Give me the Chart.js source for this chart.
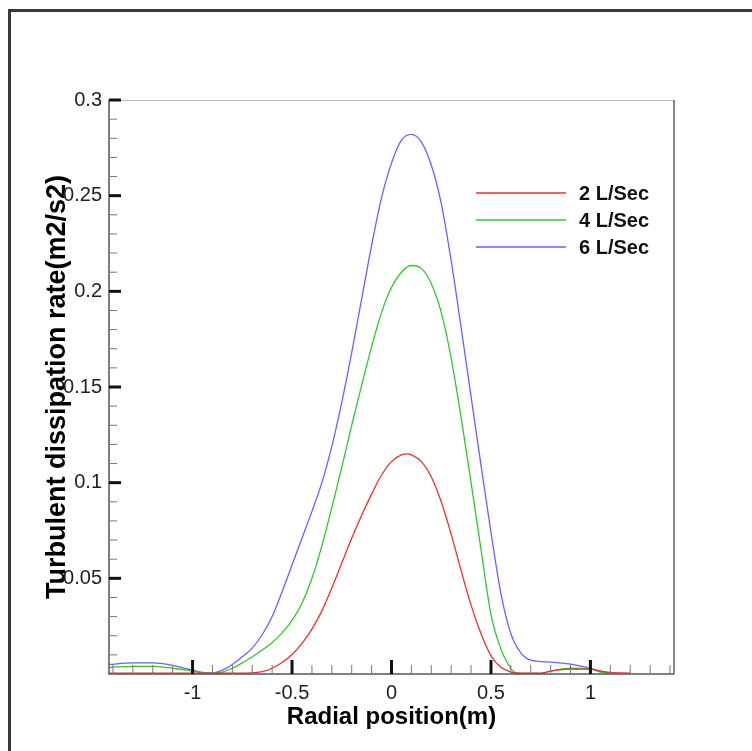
<!DOCTYPE html>
<html>
<head>
<meta charset="utf-8">
<script src="https://cdn.jsdelivr.net/npm/chart.js@4.4.1/dist/chart.umd.min.js"></script>
<style>
  html, body { margin: 0; padding: 0; background: #fff; }
  #wrap { position: relative; width: 752px; height: 751px; }
  #frame { position: absolute; left: 8px; top: 9px; right: 0; bottom: 0;
           border-left: 3px solid #3a3a3a; border-top: 3px solid #3a3a3a; pointer-events: none; }
</style>
</head>
<body>
<div id="wrap">
  <canvas id="chart" width="752" height="751"></canvas>
  <div id="frame"></div>
</div>
<script>
// 軸ラベル
const xTickLabels = [-1, -0.5, 0, 0.5, 1];
const yTickLabels = [0.05, 0.1, 0.15, 0.2, 0.25, 0.3];
const seriesNames = ['2 L/Sec', '4 L/Sec', '6 L/Sec'];

// 2 L/Sec
const xRed = [-1.42, -1.2, -1.0, -0.8, -0.7, -0.65, -0.6, -0.55, -0.5, -0.45, -0.4, -0.35, -0.3, -0.25, -0.2, -0.15, -0.1, -0.05, 0, 0.05, 0.08, 0.1, 0.15, 0.2, 0.25, 0.3, 0.35, 0.4, 0.45, 0.5, 0.55, 0.6, 0.65, 0.75, 0.8, 0.9, 1.0, 1.05, 1.1, 1.2];
const yRed = [0.0005, 0.0005, 0.0005, 0.0005, 0.0006, 0.0012, 0.003, 0.006, 0.0102, 0.016, 0.0235, 0.033, 0.045, 0.058, 0.071, 0.083, 0.094, 0.104, 0.111, 0.1145, 0.115, 0.1145, 0.111, 0.103, 0.09, 0.073, 0.054, 0.036, 0.021, 0.0095, 0.0035, 0.001, 0.0005, 0.0005, 0.0015, 0.0025, 0.0025, 0.0015, 0.0008, 0.0005];

// 4 L/Sec
const xGreen = [-1.42, -1.3, -1.2, -1.1, -1.0, -0.95, -0.9, -0.85, -0.8, -0.75, -0.7, -0.65, -0.6, -0.55, -0.5, -0.45, -0.4, -0.35, -0.3, -0.25, -0.2, -0.15, -0.1, -0.05, 0, 0.05, 0.1, 0.15, 0.2, 0.25, 0.3, 0.35, 0.4, 0.45, 0.5, 0.55, 0.6, 0.63, 0.75, 0.8, 0.9, 1.0, 1.05, 1.1];
const yGreen = [0.0035, 0.004, 0.004, 0.003, 0.0015, 0.0005, 0.0003, 0.001, 0.003, 0.0058, 0.009, 0.0125, 0.0165, 0.0215, 0.028, 0.037, 0.05, 0.067, 0.087, 0.108, 0.13, 0.151, 0.171, 0.189, 0.202, 0.21, 0.2135, 0.212, 0.204, 0.189, 0.165, 0.134, 0.1, 0.065, 0.031, 0.013, 0.003, 0.0005, 0.0003, 0.0015, 0.003, 0.0025, 0.001, 0.0003];

// 6 L/Sec
const xBlue = [-1.42, -1.3, -1.2, -1.1, -1.0, -0.95, -0.9, -0.85, -0.8, -0.75, -0.7, -0.65, -0.6, -0.55, -0.5, -0.45, -0.4, -0.35, -0.3, -0.25, -0.2, -0.15, -0.1, -0.05, 0, 0.05, 0.1, 0.15, 0.2, 0.25, 0.3, 0.35, 0.4, 0.45, 0.5, 0.55, 0.6, 0.65, 0.7, 0.8, 0.9, 1.0, 1.05, 1.1];
const yBlue = [0.005, 0.0058, 0.0058, 0.0045, 0.002, 0.0008, 0.0005, 0.002, 0.005, 0.009, 0.0135, 0.0205, 0.03, 0.043, 0.057, 0.071, 0.085, 0.1, 0.119, 0.142, 0.168, 0.196, 0.224, 0.249, 0.267, 0.279, 0.282, 0.278, 0.266, 0.246, 0.216, 0.181, 0.145, 0.109, 0.074, 0.042, 0.021, 0.011, 0.0072, 0.0062, 0.0052, 0.003, 0.0015, 0.0003];

const seriesColors = ['rgb(232,50,50)', 'rgb(50,200,50)', 'rgb(100,100,250)'];

const toPoints = (xs, ys) => xs.map((x, i) => ({ x: x, y: ys[i] }));
const FONT = '"Liberation Sans", Arial, sans-serif';

// 内向きの目盛りと枠線
const axisTicks = {
  id: 'axisTicks',
  afterDatasetsDraw(chart) {
    const { ctx, chartArea: a, scales: { x, y } } = chart;
    ctx.save();
    ctx.lineWidth = 1;
    ctx.strokeStyle = '#bbb';
    ctx.beginPath(); ctx.moveTo(a.left, a.top + 0.5); ctx.lineTo(a.right, a.top + 0.5); ctx.stroke();
    ctx.lineWidth = 2;
    ctx.strokeStyle = '#888';
    ctx.beginPath(); ctx.moveTo(a.right, a.top); ctx.lineTo(a.right, a.bottom); ctx.stroke();
    ctx.strokeStyle = '#555';
    ctx.lineWidth = 1.5;
    ctx.beginPath(); ctx.moveTo(a.left, a.top); ctx.lineTo(a.left, a.bottom); ctx.lineTo(a.right, a.bottom); ctx.stroke();

    for (let i = -14; i <= 14; i++) {
      const px = x.getPixelForValue(i / 10);
      const major = i % 5 === 0;
      ctx.strokeStyle = major ? '#111' : '#777';
      ctx.lineWidth = major ? 3 : 1;
      ctx.beginPath();
      ctx.moveTo(px, a.bottom);
      ctx.lineTo(px, a.bottom - (major ? 14 : 9));
      ctx.stroke();
    }
    for (let i = 1; i <= 30; i++) {
      const py = y.getPixelForValue(i / 100);
      const major = i % 5 === 0;
      ctx.strokeStyle = major ? '#111' : '#777';
      ctx.lineWidth = major ? 3 : 1;
      ctx.beginPath();
      ctx.moveTo(a.left, py);
      ctx.lineTo(a.left + (major ? 12 : 8), py);
      ctx.stroke();
    }
    ctx.restore();
  }
};

// 凡例
const legendBox = {
  id: 'legendBox',
  afterDraw(chart) {
    const ctx = chart.ctx;
    ctx.save();
    chart.data.datasets.forEach((ds, i) => {
      const yy = 193 + i * 27;
      ctx.strokeStyle = ds.borderColor;
      ctx.lineWidth = 1.3;
      ctx.beginPath(); ctx.moveTo(476, yy); ctx.lineTo(566, yy); ctx.stroke();
      ctx.fillStyle = '#111';
      ctx.font = 'bold 20px ' + FONT;
      ctx.textBaseline = 'middle';
      ctx.fillText(ds.label, 579, yy + 1);
    });
    ctx.restore();
  }
};

const canvas = document.getElementById('chart');
canvas.style.width = '752px';
canvas.style.height = '751px';

new Chart(canvas.getContext('2d'), {
  type: 'line',
  data: {
    datasets: [
      { label: seriesNames[0], data: toPoints(xRed, yRed) },
      { label: seriesNames[1], data: toPoints(xGreen, yGreen) },
      { label: seriesNames[2], data: toPoints(xBlue, yBlue) }
    ].map((d, i) => Object.assign(d, {
      borderColor: seriesColors[i],
      borderWidth: 1.3,
      pointRadius: 0,
      fill: false,
      cubicInterpolationMode: 'monotone'
    }))
  },
  options: {
    responsive: false,
    animation: false,
    layout: { padding: { top: 100, right: 78, left: 0, bottom: 0 } },
    plugins: {
      legend: { display: false },
      tooltip: { enabled: false }
    },
    scales: {
      x: {
        type: 'linear',
        min: -1.42,
        max: 1.42,
        grid: { display: false, drawTicks: false },
        border: { display: false },
        afterBuildTicks: s => { s.ticks = xTickLabels.map(v => ({ value: v })); },
        afterFit: s => { s.height = 77; },
        ticks: {
          padding: 7,
          color: '#222',
          font: { family: FONT, size: 20 },
          maxRotation: 0,
          callback: v => String(v)
        },
        title: {
          display: true,
          text: 'Radial position(m)',
          color: '#000',
          font: { family: FONT, size: 24, weight: 'bold' },
          padding: { top: 0, bottom: 19 }
        }
      },
      y: {
        min: 0,
        max: 0.3,
        grid: { display: false, drawTicks: false },
        border: { display: false },
        afterBuildTicks: s => { s.ticks = yTickLabels.map(v => ({ value: v })); },
        afterFit: s => { s.width = 109; },
        ticks: {
          padding: 7,
          color: '#222',
          font: { family: FONT, size: 20 },
          callback: v => String(+v.toFixed(2))
        },
        title: {
          display: true,
          text: 'Turbulent dissipation rate(m2/s2)',
          color: '#000',
          font: { family: FONT, size: 27, weight: 'bold' },
          padding: { top: 41, bottom: 0 }
        }
      }
    }
  },
  plugins: [axisTicks, legendBox]
});
</script>
</body>
</html>
